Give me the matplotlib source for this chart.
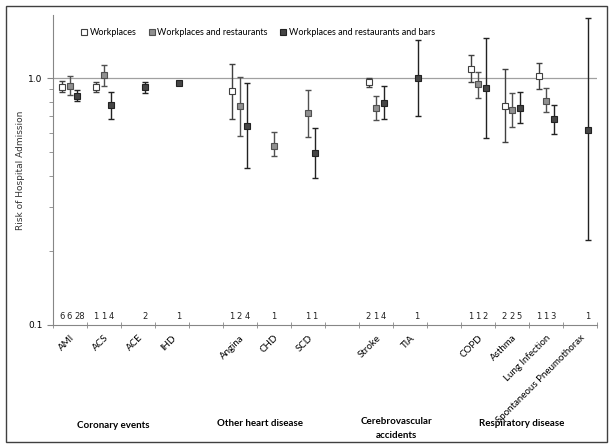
import matplotlib.pyplot as plt
import numpy as np
from matplotlib.patches import Rectangle

nan = np.nan
categories = ["AMI", "ACS", "ACE", "IHD", "", "Angina", "CHD", "SCD", "",
              "Stroke", "TIA", "", "COPD", "Asthma", "Lung Infection",
              "Spontaneous Pneumothorax"]
series_names = ["Workplaces", "Workplaces and restaurants",
                "Workplaces and restaurants and bars"]

work = [0.92, 0.916, nan, nan, nan, 0.883, nan, nan, nan, 0.96, nan, nan, 1.09, 0.772, 1.019, nan]
work_lo = [0.88, 0.88, nan, nan, nan, 0.684, nan, nan, nan, 0.916, nan, nan, 0.963, 0.549, 0.902, nan]
work_hi = [0.975, 0.963, nan, nan, nan, 1.14, nan, nan, nan, 0.996, nan, nan, 1.24, 1.087, 1.15, nan]
work_n = ["6", "1", "", "", "", "1", "", "", "", "2", "", "", "1", "2", "1", ""]

rest = [0.93, 1.025, nan, nan, nan, 0.772, 0.53, 0.719, nan, 0.758, nan, nan, 0.942, 0.744, 0.811, nan]
rest_lo = [0.85, 0.925, nan, nan, nan, 0.582, 0.483, 0.578, nan, 0.678, nan, nan, 0.832, 0.633, 0.728, nan]
rest_hi = [1.015, 1.13, nan, nan, nan, 1.01, 0.602, 0.891, nan, 0.848, nan, nan, 1.054, 0.869, 0.908, nan]
rest_n = ["6", "1", "", "", "", "2", "1", "1", "", "1", "", "", "1", "2", "1", ""]

bars = [0.845, 0.777, 0.916, 0.951, nan, 0.641, nan, 0.498, nan, 0.796, 1.0, nan, 0.911, 0.758, 0.68, 0.617]
bars_lo = [0.807, 0.684, 0.866, 0.933, nan, 0.432, nan, 0.395, nan, 0.682, 0.701, nan, 0.57, 0.658, 0.593, 0.22]
bars_hi = [0.894, 0.88, 0.966, 0.969, nan, 0.951, nan, 0.625, nan, 0.928, 1.43, nan, 1.45, 0.877, 0.777, 1.75]
bars_n = ["28", "4", "2", "1", "", "4", "", "1", "", "4", "1", "", "2", "5", "3", "1"]

groups = ["Coronary events", "Other heart disease", "Cerebrovascular\naccidents", "Respiratory disease"]
group_x = [1.29, 5.59, 9.59, 13.29]
group_y = [-0.323, -0.318, -0.333, -0.318]

fig = plt.figure(figsize=(6.13, 4.48), dpi=100)
ax = fig.add_axes([0.086, 0.2746, 0.8884, 0.6919])
fig.patches.append(Rectangle((5.7 / 613, 6.3 / 448), 601 / 613, 435.7 / 448,
                             transform=fig.transFigure, fill=False,
                             edgecolor="#404040", lw=1.0))

x = np.arange(len(categories))
off = 0.22
styles = [("white", "#404040", "#404040"), ("#909090", "#505050", "#505050"),
          ("#454545", "#222222", "#222222")]
data = [(work, work_lo, work_hi, work_n), (rest, rest_lo, rest_hi, rest_n),
        (bars, bars_lo, bars_hi, bars_n)]

for i, (vals, lo, hi, ns) in enumerate(data):
    v = np.array(vals)
    err = [v - np.array(lo), np.array(hi) - v]
    fc, ec, errc = styles[i]
    ax.errorbar(x + (i - 1) * off, v, yerr=err, fmt="none", ecolor=errc,
                elinewidth=1.0, capsize=2.2, capthick=1.0, zorder=2)
    ax.plot(x + (i - 1) * off, v, "s", ms=4.8, mfc=fc, mec=ec, mew=0.8,
            ls="none", label=series_names[i], zorder=3)
    for j, t in enumerate(ns):
        if t:
            ax.annotate(t, (x[j] + (i - 1) * off, 0.104), xytext=(-2.2, 0),
                        textcoords="offset points", ha="left", va="bottom",
                        fontsize=6, color="#222222", family="DejaVu Sans")

ax.axhline(1.0, color="#a0a0a0", lw=0.9, zorder=1)
ax.set_yscale("log")
ax.set_ylim(0.1, 1.8)
ax.set_xlim(-0.5, len(categories) - 0.5)
ax.set_yticks([0.1, 1.0])
ax.set_yticklabels(["0.1", "1.0"], fontsize=6.5, family="DejaVu Sans")
ax.set_xticks(x)
ax.set_xticklabels(categories, rotation=45, ha="right", rotation_mode="anchor",
                   fontsize=7, family="Lato")
ax.set_xticks(np.arange(-0.5, len(categories)), minor=True)
ax.tick_params(axis="x", which="major", length=0, pad=6)
ax.tick_params(axis="x", which="minor", length=4, direction="inout", color="#868686")
ax.tick_params(axis="y", which="major", length=4, color="#868686")
ax.tick_params(axis="y", which="minor", length=3, color="#868686", labelleft=False)
for s in ["top", "right"]:
    ax.spines[s].set_visible(False)
for s in ["left", "bottom"]:
    ax.spines[s].set_color("#868686")
ax.set_ylabel("Risk of Hospital Admission", fontsize=6.5, family="DejaVu Sans",
              color="#333333")
ax.yaxis.set_label_coords(-0.05, 0.5)

for gx, gy, g in zip(group_x, group_y, groups):
    ax.text(gx, gy, g, transform=ax.get_xaxis_transform(), ha="center",
            va="center", fontsize=7, fontweight="bold", family="Lato",
            linespacing=1.7)

ax.legend(loc="upper left", bbox_to_anchor=(0.035, 0.985), ncol=3, frameon=False,
          prop={"family": "Lato", "size": 6.5}, handletextpad=0.1,
          columnspacing=1.2, handlelength=1.0, markerscale=1.0)

fig.savefig("out.png", dpi=100)
